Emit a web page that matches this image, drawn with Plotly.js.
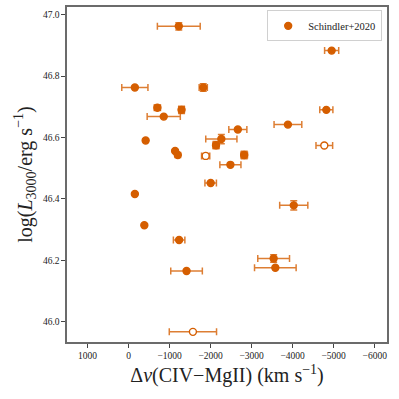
<!DOCTYPE html>
<html>
<head>
<meta charset="utf-8">
<script src="https://cdn.plot.ly/plotly-3.0.1.min.js"></script>
<style>
  html, body { margin: 0; padding: 0; background: #fff; }
  #plotlyDiv { width: 399px; height: 399px; }
</style>
</head>
<body>
<div id="plotlyDiv"></div>
<script>
// velocity shift CIV - MgII (km/s)
var dv = [-1225, -154, -1821, -703, -1292, -858, -417, -1135, -1201, -1880,
          -2132, -2262, -2002, -154, -2664, -3885, -2819, -2483, -4951, -4821,
          -4772, -385, -1233, -1414, -1569, -4027, -3537, -3578];
var dvErr = [522, 319, 100, 75, 70, 404, 0, 0, 0, 100,
             75, 380, 140, 0, 220, 338, 80, 257, 172, 160,
             203, 0, 140, 385, 576, 343, 387, 507];
// log L3000
var logL = [46.962, 46.763, 46.763, 46.697, 46.690, 46.668, 46.590, 46.556, 46.543, 46.540,
            46.575, 46.595, 46.452, 46.416, 46.626, 46.642, 46.543, 46.511, 46.883, 46.690,
            46.574, 46.314, 46.266, 46.165, 45.967, 46.379, 46.206, 46.176];
var logLErr = [0.012, 0, 0.012, 0.008, 0.012, 0, 0, 0, 0.008, 0.008,
               0.012, 0.015, 0, 0, 0, 0, 0.012, 0, 0, 0,
               0, 0, 0, 0, 0, 0.015, 0.012, 0];
// open markers
var isOpen = [0, 0, 0, 0, 0, 0, 0, 0, 0, 1,
              0, 0, 0, 0, 0, 0, 0, 0, 0, 0,
              1, 0, 0, 0, 1, 0, 0, 0];

var xTicks = [1000, 0, -1000, -2000, -3000, -4000, -5000, -6000];
var xTickText = ['1000', '0', '\u22121000', '\u22122000', '\u22123000', '\u22124000', '\u22125000', '\u22126000'];
var yTicks = [46.0, 46.2, 46.4, 46.6, 46.8, 47.0];

var orange = '#D55E00';
var fills = isOpen.map(function(o){ return o ? '#ffffff' : orange; });

var trace = {
  x: dv,
  y: logL,
  mode: 'markers',
  type: 'scatter',
  name: 'Schindler+2020',
  marker: { size: 7, color: fills, line: { color: orange, width: 1.4 } },
  error_x: { type: 'data', array: dvErr, visible: true, color: 'rgba(213,94,0,0.8)', thickness: 1.5, width: 3.5 },
  error_y: { type: 'data', array: logLErr, visible: true, color: 'rgba(213,94,0,0.8)', thickness: 1.5, width: 3.5 }
};

var serif = '"Liberation Serif", "DejaVu Serif", serif';

var layout = {
  width: 399,
  height: 399,
  margin: { l: 67, r: 12, t: 7, b: 57 },
  paper_bgcolor: '#ffffff',
  plot_bgcolor: '#ffffff',
  font: { family: serif, color: '#222' },
  showlegend: true,
  legend: {
    x: 0.985, y: 0.99, xanchor: 'right', yanchor: 'top',
    bordercolor: '#d0d0d0', borderwidth: 1, bgcolor: '#ffffff',
    font: { family: serif, size: 10.5, color: '#222' }
  },
  xaxis: {
    range: [1500, -6300],
    tickvals: xTicks,
    ticktext: xTickText,
    ticks: 'outside', ticklen: 4, tickwidth: 1, tickcolor: '#444',
    showgrid: false, zeroline: false,
    showline: true, mirror: true, linecolor: '#6b6b6b', linewidth: 1.6,
    tickfont: { family: serif, size: 9.5, color: '#222' },
    title: { text: '\u0394<i>v</i>(CIV\u2212MgII) (km s<sup>\u22121</sup>)', font: { family: serif, size: 20, color: '#222' }, standoff: 8 }
  },
  yaxis: {
    range: [45.934, 47.025],
    tickvals: yTicks,
    tickformat: '.1f',
    ticks: 'outside', ticklen: 4, tickwidth: 1, tickcolor: '#444',
    showgrid: false, zeroline: false,
    showline: true, mirror: true, linecolor: '#6b6b6b', linewidth: 1.6,
    tickfont: { family: serif, size: 9.5, color: '#222' },
    title: { text: 'log(<i>L</i><sub>3000</sub>/erg s<sup>\u22121</sup>)', font: { family: serif, size: 20, color: '#222' }, standoff: 5 }
  }
};

Plotly.newPlot('plotlyDiv', [trace], layout, { staticPlot: true, displayModeBar: false });
</script>
</body>
</html>
